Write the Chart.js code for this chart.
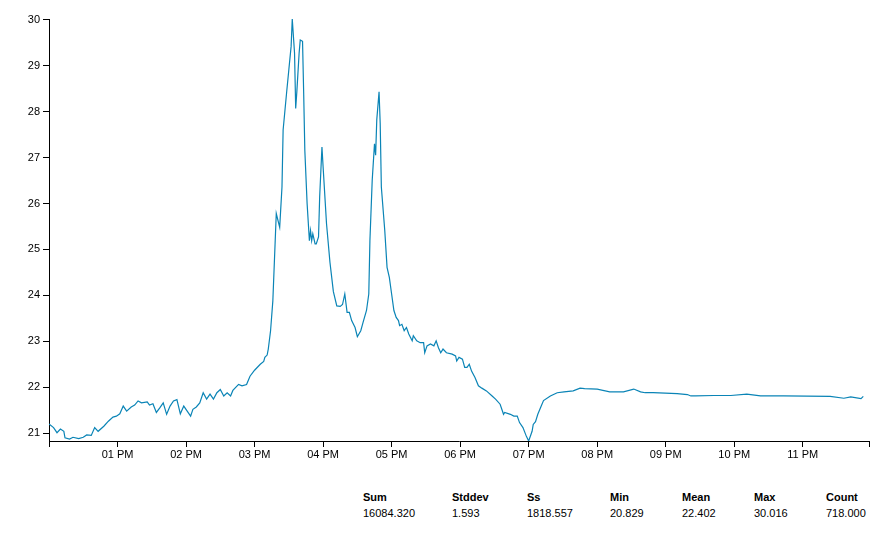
<!DOCTYPE html>
<html>
<head>
<meta charset="utf-8">
<script src="https://cdn.jsdelivr.net/npm/chart.js@4/dist/chart.umd.min.js"></script>
<style>
  body { margin: 0; background: #fff; font-family: "Liberation Sans", Arial, sans-serif; }
  #wrap { position: relative; width: 884px; height: 535px; }
  .stat { position: absolute; font-size: 11px; color: #000; white-space: nowrap; }
  .stat b { display: block; font-weight: bold; margin-bottom: 4px; }
</style>
</head>
<body>
<div id="wrap">
  <canvas id="myChart" width="884" height="470"></canvas>
</div>
<script>
// minutes after 12:00 PM
var minutes = [0,4,7,10,13,14,18,21,26,30,33,37,40,43,48,52,56,59,62,65,68,72,75,78,81,86,88,91,94,97,100,103,106,109,112,115,118,121,124,126,129,132,135,138,141,144,147,150,153,156,159,161,166,169,173,176,180,185,188,189,191,192,194,196,199,202,204,205,208,210,212,213,215,216,217,219,220,222,223,224,226,228,229,230,231,233,234,236,237,239,240,243,246,249,252,255,257,259,261,263,265,268,270,273,275,278,280,281,283,285,286,287,289,290,291,294,296,298,300,302,304,306,307,309,311,313,315,318,319,322,325,328,329,331,334,337,339,341,343,345,348,353,356,357,359,362,364,366,368,370,373,376,379,383,388,391,395,398,399,404,407,410,412,415,418,420,423,424,426,428,431,433,439,445,451,459,465,469,480,491,503,512,518,522,529,550,559,562,566,582,597,611,623,626,643,684,696,702,711,713,718];
var temps = [21.20,21.12,21.01,21.09,21.04,20.90,20.87,20.91,20.88,20.91,20.96,20.95,21.12,21.04,21.15,21.26,21.35,21.37,21.42,21.59,21.48,21.57,21.61,21.70,21.66,21.68,21.61,21.64,21.45,21.55,21.66,21.41,21.59,21.70,21.73,21.42,21.59,21.48,21.37,21.52,21.57,21.66,21.88,21.74,21.85,21.74,21.88,21.95,21.81,21.88,21.81,21.93,22.06,22.03,22.06,22.24,22.37,22.50,22.56,22.65,22.70,22.83,23.23,23.88,25.78,25.48,26.36,27.60,28.40,28.91,29.42,30.016,29.27,28.07,28.43,29.27,29.56,29.53,28.40,27.16,26.00,25.19,25.41,25.19,25.34,25.12,25.12,25.27,26.14,27.23,26.80,25.56,24.72,24.08,23.77,23.76,23.80,24.03,23.63,23.63,23.45,23.30,23.10,23.23,23.41,23.67,24.03,25.19,26.50,27.30,27.05,27.82,28.43,27.74,26.36,25.41,24.61,24.39,24.03,23.67,23.52,23.45,23.34,23.37,23.23,23.30,23.16,23.01,23.12,23.01,22.97,22.97,22.75,22.90,22.94,22.90,23.01,22.86,22.75,22.83,22.75,22.72,22.68,22.57,22.65,22.61,22.43,22.43,22.50,22.35,22.21,22.03,21.98,21.92,21.81,21.74,21.63,21.41,21.45,21.41,21.37,21.37,21.23,21.12,20.93,20.829,21.04,21.19,21.25,21.41,21.59,21.71,21.81,21.88,21.90,21.92,21.98,21.97,21.96,21.90,21.90,21.96,21.90,21.88,21.88,21.86,21.84,21.81,21.81,21.82,21.82,21.85,21.81,21.81,21.81,21.80,21.76,21.79,21.75,21.80];
var yTicks = [21,22,23,24,25,26,27,28,29,30];
var hourLabels = ["01 PM","02 PM","03 PM","04 PM","05 PM","06 PM","07 PM","08 PM","09 PM","10 PM","11 PM"];
var statNames = ["Sum","Stddev","Ss","Min","Mean","Max","Count"];
var statValues = ["16084.320","1.593","1818.557","20.829","22.402","30.016","718.000"];
var statLeft = [363,452,527,610,682,754,826];

var points = minutes.map(function(m, i){ return {x: m, y: temps[i]}; });
var tickFont = { family: '"Liberation Sans", Arial, sans-serif', size: 11 };

var ctx = document.getElementById('myChart').getContext('2d');
var chart = new Chart(ctx, {
  type: 'line',
  data: {
    datasets: [{
      data: points,
      borderColor: '#0a84b6',
      borderWidth: 1.2,
      pointRadius: 0,
      tension: 0,
      fill: false
    }]
  },
  options: {
    responsive: false,
    animation: false,
    layout: { padding: { left: 0, right: 15, top: 19, bottom: 0 } },
    plugins: { legend: { display: false }, tooltip: { enabled: false } },
    scales: {
      x: {
        type: 'linear',
        min: 0,
        max: 718,
        afterBuildTicks: function(scale){
          var t = [0];
          for (var i = 1; i <= hourLabels.length; i++) t.push(i * 60);
          t.push(718);
          scale.ticks = t.map(function(v){ return {value: v}; });
        },
        afterFit: function(scale){ scale.height = 29; },
        border: { color: '#000', width: 1 },
        grid: { drawOnChartArea: false, color: '#000', tickLength: 6 },
        ticks: {
          color: '#000',
          font: tickFont,
          padding: 1,
          autoSkip: false,
          maxRotation: 0,
          callback: function(v){
            if (v % 60 !== 0 || v === 0) return '';
            return hourLabels[v / 60 - 1] || '';
          }
        }
      },
      y: {
        min: 20.829,
        max: 30.016,
        afterBuildTicks: function(scale){
          scale.ticks = yTicks.map(function(v){ return {value: v}; });
        },
        afterFit: function(scale){ scale.width = 49; },
        border: { color: '#000', width: 1 },
        grid: { drawOnChartArea: false, color: '#000', tickLength: 6 },
        ticks: { color: '#000', font: tickFont, padding: 3 }
      }
    }
  }
});

var wrap = document.getElementById('wrap');
statNames.forEach(function(name, i){
  var d = document.createElement('div');
  d.className = 'stat';
  d.style.left = statLeft[i] + 'px';
  d.style.top = '491px';
  d.innerHTML = '<b>' + name + '</b>' + statValues[i];
  wrap.appendChild(d);
});
</script>
</body>
</html>
